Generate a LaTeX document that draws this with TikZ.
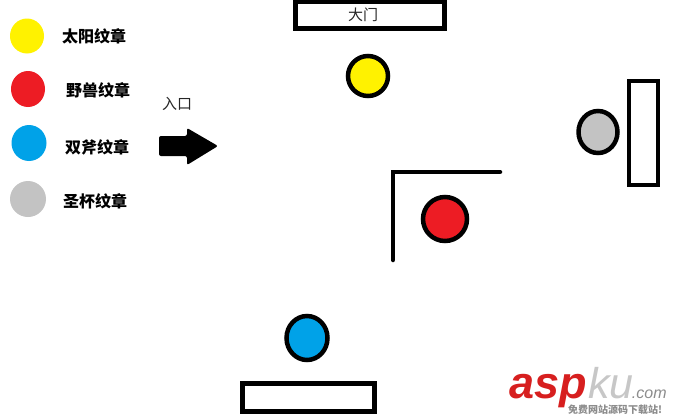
\documentclass[tikz,border=0pt]{standalone}
\usepackage{fontspec}
\setmainfont{Liberation Sans}
\newfontfamily\cjk{Noto Sans CJK SC}
\newfontfamily\wm{Liberation Sans}
\usetikzlibrary{shapes.geometric}
\definecolor{pyellow}{HTML}{FFF200}
\definecolor{pred}{HTML}{ED1C24}
\definecolor{pblue}{HTML}{00A2E8}
\definecolor{pgray}{HTML}{C3C3C3}
\definecolor{wmred}{HTML}{D71F1F}
\tikzset{
  legenddot/.style={ellipse, inner sep=0pt, draw=none},
  mapdot/.style={ellipse, inner sep=0pt, draw=black, line width=4.5pt},
  legendtext/.style={anchor=west, inner sep=0pt, font=\cjk\bfseries\fontsize{16}{16}\selectfont},
  plaintext/.style={inner sep=0pt, font=\cjk\fontsize{15}{15}\selectfont, text=black!85},
  wallbox/.style={draw=black, fill=white, line width=5pt},
  wall/.style={draw=black, line width=4.5pt, line cap=round},
  wmtext/.style={anchor=base west, inner sep=0pt, text depth=0pt}
}
\begin{document}
\begin{tikzpicture}[x=1pt, y=-1pt]
\fill[white] (0,0) rectangle (676,416);
\useasboundingbox (0,0) rectangle (676,416);

% legend
\node[legenddot, fill=pyellow, minimum width=34pt, minimum height=35pt] (lsun) at (27,36) {};
\node[legenddot, fill=pred, minimum width=34pt, minimum height=36pt] (lbeast) at (28,89) {};
\node[legenddot, fill=pblue, minimum width=35pt, minimum height=36pt] (laxe) at (29,143) {};
\node[legenddot, fill=pgray, minimum width=36pt, minimum height=36pt] (lcup) at (28,199) {};
\node[legendtext] (tsun) at (62,36) {太阳纹章};
\node[legendtext] (tbeast) at (66,90) {野兽纹章};
\node[legendtext] (taxe) at (65,147) {双斧纹章};
\node[legendtext] (tcup) at (63,201) {圣杯纹章};

% entrance
\node[plaintext] (entrylabel) at (177,104) {入口};
\fill[black, rounded corners=2pt] (159,136) -- (187,136) -- (187,128) -- (218,146) -- (187,165) -- (187,156) -- (159,156) -- cycle;

% gate
\draw[wallbox] (295.5,1.5) rectangle (444.5,28.5);
\node[plaintext] (gatelabel) at (363,15) {大门};

% right and bottom boxes
\draw[wallbox, line width=4.5pt] (629,81) rectangle (658,185);
\draw[wallbox] (242.5,383.5) rectangle (374.5,411.5);

% L wall
\draw[wall] (393,260) -- (393,172) -- (500,172);

% map emblems
\node[mapdot, fill=pyellow, minimum width=40pt, minimum height=40pt] (sun) at (368,76) {};
\node[mapdot, fill=pgray, minimum width=39pt, minimum height=42pt] (cup) at (598,132) {};
\node[mapdot, fill=pred, minimum width=44pt, minimum height=44pt] (beast) at (445,219) {};
\node[mapdot, fill=pblue, minimum width=41pt, minimum height=44pt] (axe) at (307,338) {};

% watermark
\node[wmtext, text=wmred, font=\wm\bfseries\itshape\fontsize{45}{45}\selectfont] (wasp) at (509,398) {asp};
\node[wmtext, text=black!22, font=\wm\itshape\fontsize{43}{43}\selectfont] (wku) at ([xshift=1pt]wasp.base east) {ku};
\node[wmtext, text=black!45, font=\wm\itshape\fontsize{16}{16}\selectfont] (wcom) at ([xshift=-2pt]wku.base east) {.com};
\node[anchor=west, inner sep=0pt, text=black!45, font=\cjk\bfseries\fontsize{10}{10}\selectfont] (wsub) at (568,409.5) {免费网站源码下载站!};
\end{tikzpicture}
\end{document}
